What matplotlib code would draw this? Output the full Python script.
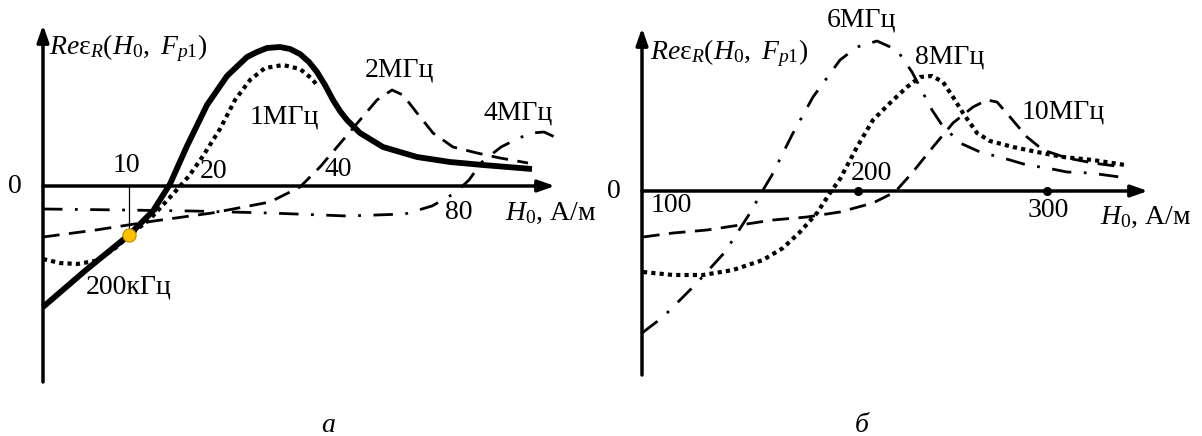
import matplotlib.pyplot as plt

plt.rcParams['font.family'] = ['Liberation Serif', 'DejaVu Serif']
plt.rcParams['mathtext.fontset'] = 'custom'
plt.rcParams['mathtext.rm'] = 'Liberation Serif'
plt.rcParams['mathtext.it'] = 'Liberation Serif:italic'

# panel "а": schematic units (x to the right of the y axis, y above the H0 axis)
x_200k = [0, 43, 86, 110, 127, 144, 164, 184, 204, 214, 224, 237, 247, 257, 266, 274,
          282, 290, 297, 304, 317, 340, 374, 407, 440, 489]
y_200k = [-121, -84, -49, -25, 2, 40, 81, 110, 129, 134, 138, 139, 137, 132, 124, 114,
          101, 86, 75, 66, 53, 39, 29, 24, 21, 17]
x_1m = [0, 17, 34, 52, 70, 86, 108, 130, 146, 160, 177, 192, 207, 222, 240, 257, 268, 275]
y_1m = [-73, -77, -78, -75, -64, -50, -32, -8, 10, 30, 57, 86, 106, 118, 121, 117, 108, 100]
x_2m = [0, 53, 111, 169, 227, 257, 277, 300, 317, 334, 349, 360, 374, 390, 410, 434, 457, 485]
y_2m = [-51, -44, -35, -27, -16, -1, 19, 46, 66, 86, 96, 91, 73, 53, 39, 33, 28, 23]
x_4m = [0, 80, 149, 227, 304, 362, 389, 412, 426, 439, 458, 476, 489, 501, 514]
y_4m = [-23, -24, -25, -27, -30, -28, -20, -7, 6, 24, 39, 48, 53, 54, 48]
ticks_a = ['10', '20', '40', '80']
ticks_a_x = [83, 171, 295, 416]
ticks_a_y = [21, 14, 16, -26]
point_a = (86, -49)

# panel "б"
x_6m = [0, 21, 53, 83, 108, 121, 130, 150, 171, 198, 215, 235, 255, 270, 290, 300, 318, 338,
        361, 385, 405, 425, 448, 478]
y_6m = [-142, -126, -94, -61, -22, 1, 16, 56, 94, 131, 144, 150, 141, 119, 81, 66, 48, 39,
        33, 26, 23, 19, 18, 14]
x_8m = [1, 31, 61, 91, 121, 141, 158, 175, 188, 198, 215, 231, 248, 265, 278, 290, 301, 311,
        321, 335, 348, 371, 395, 421, 451, 483]
y_8m = [-81, -84, -84, -79, -69, -57, -41, -22, -2, 12, 44, 71, 88, 104, 114, 115, 109, 94,
        78, 58, 50, 44, 39, 34, 31, 26]
x_10m = [1, 31, 65, 98, 131, 165, 198, 231, 253, 270, 291, 311, 331, 345, 355, 368, 385, 401,
         425, 451, 481]
y_10m = [-46, -42, -39, -34, -29, -26, -21, -12, -1, 18, 44, 68, 84, 91, 89, 74, 54, 41,
         33, 28, 24]
ticks_b = ['100', '200', '300']
ticks_b_x = [29, 229, 406]
ticks_b_y = [-14, 18, -19]
tick_dots_b = [216, 405]

W, H = 1202, 436
fig = plt.figure(figsize=(W / 100, H / 100), dpi=100)

ax1 = fig.add_axes([0, 0, 600 / W, 1])
ax1.set_xlim(-43, 557)
ax1.set_ylim(-250, 186)
ax2 = fig.add_axes([600 / W, 0, 602 / W, 1])
ax2.set_xlim(-42, 560)
ax2.set_ylim(-245, 191)

fs = 20
dash = (0, (6, 3.4))
dashdot = (0, (7, 4.5, 1, 4.5))
dotted = (0, (1, 1))
ylabel = r'$Re\mathrm{\varepsilon}_R(H_{\mathit{0}},\ F_{\mathit{p1}})$'
xlabel = r'$H_{\mathit{0}}$, А/м'

for ax, ylo, yhi, xhi in [(ax1, -196, 161, 512), (ax2, -184, 163, 506)]:
    ax.axis('off')
    ax.annotate('', xy=(0, yhi), xytext=(0, ylo),
                arrowprops=dict(arrowstyle='-|>,head_length=1.0,head_width=0.35',
                                lw=2.5, color='black', shrinkA=0, shrinkB=0))
    ax.annotate('', xy=(xhi, 0), xytext=(0, 0),
                arrowprops=dict(arrowstyle='-|>,head_length=1.0,head_width=0.35',
                                lw=2.5, color='black', shrinkA=0, shrinkB=0))
    ax.text(-28, 0, '0', fontsize=fs, ha='center', va='center')

kw = dict(color='black', solid_joinstyle='round', dash_joinstyle='round')

# panel а curves
ax1.plot(x_200k, y_200k, lw=4.2, solid_capstyle='butt', **kw)
ax1.plot(x_1m, y_1m, lw=3.0, linestyle=dotted, **kw)
ax1.plot(x_2m, y_2m, lw=2.0, linestyle=dash, **kw)
ax1.plot(x_4m, y_4m, lw=2.0, linestyle=dashdot, **kw)
ax1.plot([point_a[0], point_a[0]], [0, point_a[1]], color='black', lw=0.9)
ax1.plot(*point_a, 'o', ms=9.5, mfc='#ffc000', mec='#c08a00', mew=0.8)
for t, x, y in zip(ticks_a, ticks_a_x, ticks_a_y):
    ax1.text(x, y, t, fontsize=fs, ha='center', va='center')
ax1.text(6, 138, ylabel, fontsize=fs, ha='left', va='center')
ax1.text(322, 116, '2МГц', fontsize=fs, ha='left', va='center')
ax1.text(207, 69, '1МГц', fontsize=fs, ha='left', va='center')
ax1.text(441, 73, '4МГц', fontsize=fs, ha='left', va='center')
ax1.text(43, -101, '200кГц', fontsize=fs, ha='left', va='center')
ax1.text(462, -27, xlabel, fontsize=fs, ha='left', va='center')
ax1.text(285, -239, 'а', fontsize=fs, style='italic', ha='center', va='center')

# panel б curves
ax2.plot(x_6m, y_6m, lw=2.0, linestyle=dashdot, **kw)
ax2.plot(x_8m, y_8m, lw=3.0, linestyle=dotted, **kw)
ax2.plot(x_10m, y_10m, lw=2.0, linestyle=dash, **kw)
ax2.plot(tick_dots_b, [0] * len(tick_dots_b), marker='o', ls='none', color='black', ms=5.5)
for t, x, y in zip(ticks_b, ticks_b_x, ticks_b_y):
    ax2.text(x, y, t, fontsize=fs, ha='center', va='center')
ax2.text(8, 138, ylabel, fontsize=fs, ha='left', va='center')
ax2.text(185, 171, '6МГц', fontsize=fs, ha='left', va='center')
ax2.text(273, 134, '8МГц', fontsize=fs, ha='left', va='center')
ax2.text(380, 79, '10МГц', fontsize=fs, ha='left', va='center')
ax2.text(458, -26, xlabel, fontsize=fs, ha='left', va='center')
ax2.text(220, -234, 'б', fontsize=fs, style='italic', ha='center', va='center')

fig.savefig('out.png', dpi=100)
